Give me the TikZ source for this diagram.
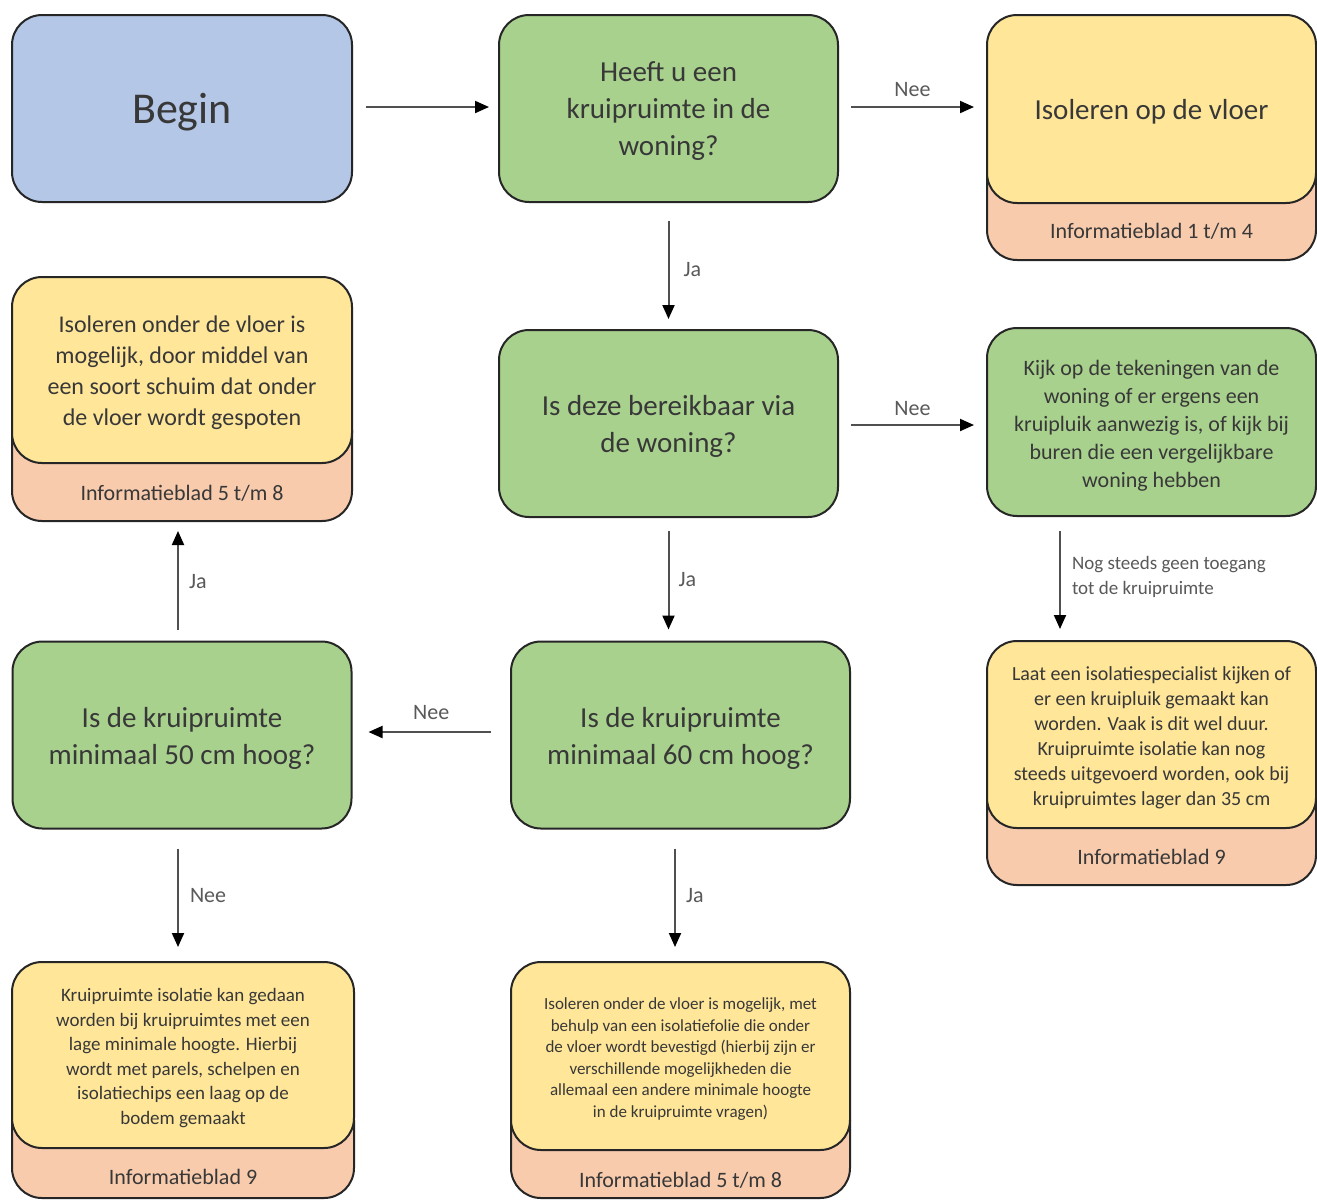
\documentclass[tikz,border=0pt]{standalone}
\usepackage{fontspec}
\setmainfont{Carlito}
\usetikzlibrary{arrows.meta}
\definecolor{cblue}{HTML}{B4C7E7}
\definecolor{cgreen}{HTML}{A9D18E}
\definecolor{cyellow}{HTML}{FFE699}
\definecolor{cpink}{HTML}{F8CBAD}
\definecolor{ctext}{HTML}{383838}
\definecolor{clab}{HTML}{595959}
\definecolor{cline}{HTML}{505050}
\definecolor{cborder}{HTML}{262626}
\tikzset{
  box/.style={draw=cborder, line width=1pt, rounded corners=15pt, inner sep=0pt},
  bluebox/.style={box, fill=cblue, minimum width=170pt, minimum height=93.5pt},
  greenbox/.style={box, fill=cgreen, minimum width=169.5pt, minimum height=93.5pt},
  yellowbox/.style={box, fill=cyellow},
  pinkbox/.style={box, fill=cpink},
  boxtext/.style={align=center, text=ctext, inner sep=0pt},
  infolab/.style={text=ctext, font=\fontsize{11}{13}\selectfont, inner sep=0pt},
  qfont/.style={boxtext, font=\fontsize{14.5}{18.5}\selectfont},
  arr/.style={draw=cline, line width=1pt, -{Triangle[length=7pt,width=6pt,color=black]}},
  elab/.style={text=clab, font=\fontsize{11}{13}\selectfont, inner sep=1pt},
}
\begin{document}
\begin{tikzpicture}[x=0.5pt,y=-0.5pt]
\useasboundingbox[fill=white] (0,0) rectangle (1317,1201);

% Row 1
\node[bluebox] (begin) at (182,108.5) {};
\node[boxtext, font=\fontsize{22}{26}\selectfont] (begint) at ([yshift=-2pt]begin.center) {Begin};
\node[greenbox] (q1) at (668.5,108.5) {};
\node[qfont] (q1t) at ([yshift=-1.5pt]q1.center) {Heeft u een\\kruipruimte in de\\woning?};
\node[pinkbox, minimum width=164.5pt, minimum height=55pt] (iso1p) at (1151.5,205) {};
\node[yellowbox, minimum width=164.5pt, minimum height=94pt] (iso1) at (1151.5,109) {};
\node[qfont] (iso1t) at ([yshift=-1.5pt]iso1.center) {Isoleren op de vloer};
\node[infolab] (iso1l) at (1151.5,231) {Informatieblad 1 t/m 4};

% Row 2
\node[pinkbox, minimum width=170pt, minimum height=60.5pt] (tlp) at (182,460.5) {};
\node[yellowbox, minimum width=170pt, minimum height=93pt] (tl) at (182,370) {};
\node[boxtext, font=\fontsize{12}{15.5}\selectfont] (tlt) at ([yshift=-1.5pt]tl.center) {Isoleren onder de vloer is\\mogelijk, door middel van\\een soort schuim dat onder\\de vloer wordt gespoten};
\node[infolab] (tll) at (182,493) {Informatieblad 5 t/m 8};
\node[greenbox] (q2) at (668.5,423.5) {};
\node[qfont] (q2t) at ([yshift=-1.5pt]q2.center) {Is deze bereikbaar via\\de woning?};
\node[greenbox, minimum width=164.5pt, minimum height=94pt] (kijk) at (1151.5,422) {};
\node[boxtext, font=\fontsize{11}{14}\selectfont] (kijkt) at ([yshift=-1.75pt]kijk.center) {Kijk op de tekeningen van de\\woning of er ergens een\\kruipluik aanwezig is, of kijk bij\\buren die een vergelijkbare\\woning hebben};

% Row 3
\node[greenbox] (q4) at (182,735) {};
\node[qfont] (q4t) at ([yshift=-1.75pt]q4.center) {Is de kruipruimte\\minimaal 50 cm hoog?};
\node[greenbox] (q3) at (680.5,735) {};
\node[qfont] (q3t) at ([yshift=-1.75pt]q3.center) {Is de kruipruimte\\minimaal 60 cm hoog?};
\node[pinkbox, minimum width=164.5pt, minimum height=57.5pt] (laatp) at (1151.5,827.5) {};
\node[yellowbox, minimum width=164.5pt, minimum height=93.5pt] (laat) at (1151.5,734.5) {};
\node[boxtext, font=\fontsize{10}{12.5}\selectfont] (laatt) at ([yshift=-1.75pt]laat.center) {Laat een isolatiespecialist kijken of\\er een kruipluik gemaakt kan\\worden. Vaak is dit wel duur.\\Kruipruimte isolatie kan nog\\steeds uitgevoerd worden, ook bij\\kruipruimtes lager dan 35 cm};
\node[infolab] (laatl) at (1151.5,857) {Informatieblad 9};

% Row 4
\node[pinkbox, minimum width=171pt, minimum height=54pt] (blp) at (183,1144) {};
\node[yellowbox, minimum width=171pt, minimum height=93pt] (bl) at (183,1055) {};
\node[boxtext, font=\fontsize{9.5}{12.3}\selectfont] (blt) at ([yshift=-1.5pt]bl.center) {Kruipruimte isolatie kan gedaan\\worden bij kruipruimtes met een\\lage minimale hoogte. Hierbij\\wordt met parels, schelpen en\\isolatiechips een laag op de\\bodem gemaakt};
\node[infolab] (bll) at (183,1177) {Informatieblad 9};
\node[pinkbox, minimum width=169.5pt, minimum height=54pt] (bmp) at (680.5,1144) {};
\node[yellowbox, minimum width=169.5pt, minimum height=94pt] (bm) at (680.5,1056) {};
\node[boxtext, font=\fontsize{8.5}{10.8}\selectfont] (bmt) at ([yshift=-1.5pt]bm.center) {Isoleren onder de vloer is mogelijk, met\\behulp van een isolatiefolie die onder\\de vloer wordt bevestigd (hierbij zijn er\\verschillende mogelijkheden die\\allemaal een andere minimale hoogte\\in de kruipruimte vragen)};
\node[infolab] (bml) at (680.5,1180) {Informatieblad 5 t/m 8};

% Connectors
\draw[arr, shorten <=6.5pt, shorten >=4.5pt] ([yshift=0.75pt]begin.east) -- ([yshift=0.75pt]q1.west);
\draw[arr, shorten <=6pt, shorten >=6pt] ([yshift=0.75pt]q1.east) -- ([yshift=0.75pt]q1.east -| iso1.west) node[elab, midway, above=3.5pt] (l1) {Nee};
\draw[arr, shorten <=9pt, shorten >=5pt] (q1.south) -- (q2.north) node[elab, midway, right=6pt, yshift=-2pt] (l2) {Ja};
\draw[arr, shorten <=6pt, shorten >=6pt] ([yshift=-0.75pt]q2.east) -- ([yshift=-0.75pt]q2.east -| kijk.west) node[elab, midway, above=3pt] (l3) {Nee};
\draw[arr, shorten <=6.5pt, shorten >=5.5pt] (q2.south) -- (q2.south |- q3.north) node[elab, midway, right=3.5pt] (l4) {Ja};
\draw[arr, shorten <=7pt, shorten >=5.5pt] ([xshift=-45.75pt]kijk.south) -- ([xshift=-45.75pt]kijk.south |- laat.north)
  node[elab, midway, right=4.5pt, align=left, font=\fontsize{9.5}{12.5}\selectfont, yshift=1pt] (l5) {Nog steeds geen toegang\\tot de kruipruimte};
\draw[arr, shorten <=9.5pt, shorten >=8pt] ([yshift=1.5pt]q3.west) -- ([yshift=1.5pt]q4.east) node[elab, midway, above=4.5pt] (l6) {Nee};
\draw[arr, shorten <=5.5pt, shorten >=4.5pt] ([xshift=-2pt]q4.north) -- ([xshift=-2pt]tlp.south) node[elab, midway, right=4pt] (l7) {Ja};
\draw[arr, shorten <=9.5pt, shorten >=7pt] ([xshift=-2pt]q4.south) -- ([xshift=-2.5pt]bl.north) node[elab, midway, right=4.5pt] (l8) {Nee};
\draw[arr, shorten <=9.5pt, shorten >=7pt] ([xshift=-2.75pt]q3.south) -- ([xshift=-2.75pt]bm.north) node[elab, midway, right=4pt] (l9) {Ja};
\end{tikzpicture}
\end{document}
